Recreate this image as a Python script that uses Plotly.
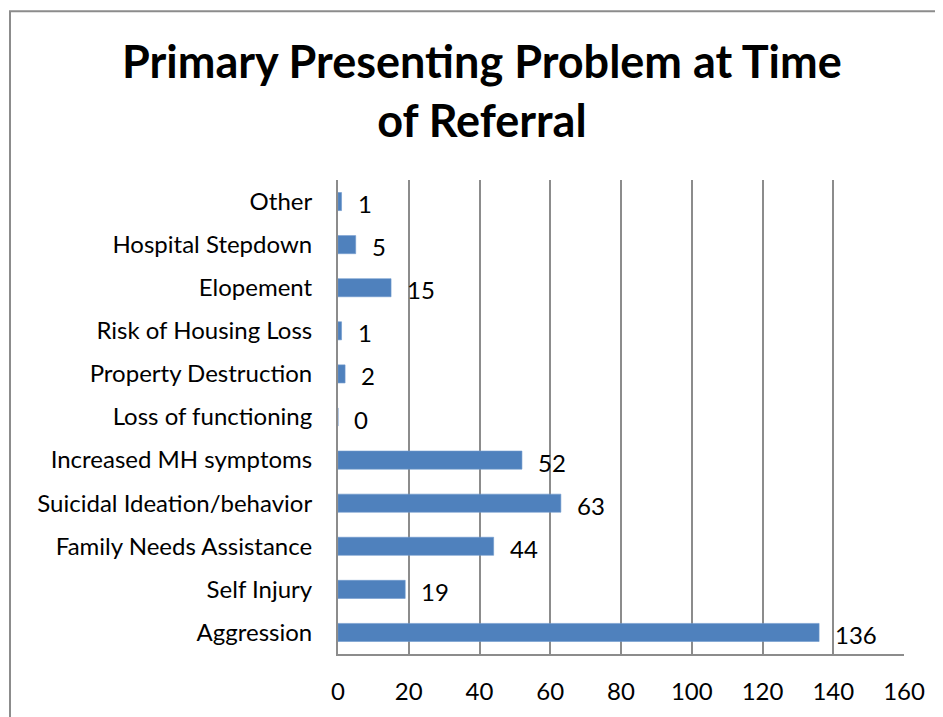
import plotly.graph_objects as go

categories = ["Aggression", "Self Injury", "Family Needs Assistance", "Suicidal Ideation/behavior",
              "Increased MH symptoms", "Loss of functioning", "Property Destruction",
              "Risk of Housing Loss", "Elopement", "Hospital Stepdown", "Other"]
counts = [136, 19, 44, 63, 52, 0, 2, 1, 15, 5, 1]
x_ticks = [0, 20, 40, 60, 80, 100, 120, 140, 160]
title_text = "Primary Presenting Problem at Time<br>of Referral"

# page has an 8px body margin; figure is laid out in its own pixel frame
W, H = 935, 709
L, R, T, B = 330, 39, 172, 57
PW, PH = W - L - R, H - T - B

def px(x):
    return (x - L) / PW

def py(y):
    return (H - B - y) / PH

FONT = "Lato"
fig = go.Figure()
fig.add_trace(go.Bar(
    x=counts, y=categories, orientation="h",
    marker=dict(color="#4F81BD", line=dict(color="#6f98cc", width=0.6)),
    hoverinfo="x+y",
))

for c, v in zip(categories, counts):
    fig.add_annotation(x=v, y=c, text=str(v), showarrow=False, xanchor="left",
                       xshift=14, yshift=-2, font=dict(family=FONT, size=24, color="#000"))

fig.add_annotation(xref="paper", yref="paper", x=px(474), y=py(22), xanchor="center", yanchor="top",
                   text=title_text, showarrow=False, align="center",
                   font=dict(family=FONT, size=45, color="#000", weight="bold"))

shapes = [dict(type="rect", xref="paper", yref="paper", x0=px(2), x1=px(960), y0=py(1), y1=py(740),
               line=dict(color="#8c8c8c", width=2), fillcolor="rgba(0,0,0,0)", layer="below")]

fig.update_layout(
    width=W, height=H,
    margin=dict(l=L, r=R, t=T, b=B, pad=0),
    paper_bgcolor="white", plot_bgcolor="white",
    bargap=0.58,
    showlegend=False,
    font=dict(family=FONT, size=24, color="#000"),
    shapes=shapes,
)
fig.update_xaxes(range=[0, 160], tickvals=x_ticks, ticktext=[str(t) for t in x_ticks],
                 showgrid=True, gridcolor="#8c8c8c", gridwidth=1.5,
                 showline=True, linecolor="#8c8c8c", linewidth=2, mirror=False,
                 zeroline=False, ticks="", ticklabelstandoff=15,
                 tickfont=dict(family=FONT, size=24, color="#000"), fixedrange=True)
fig.update_yaxes(categoryorder="array", categoryarray=categories,
                 showline=True, linecolor="#8c8c8c", linewidth=2, showgrid=False,
                 ticks="", ticklabelstandoff=19,
                 tickfont=dict(family=FONT, size=24, color="#000"), fixedrange=True)

fig.write_html("out.html")
